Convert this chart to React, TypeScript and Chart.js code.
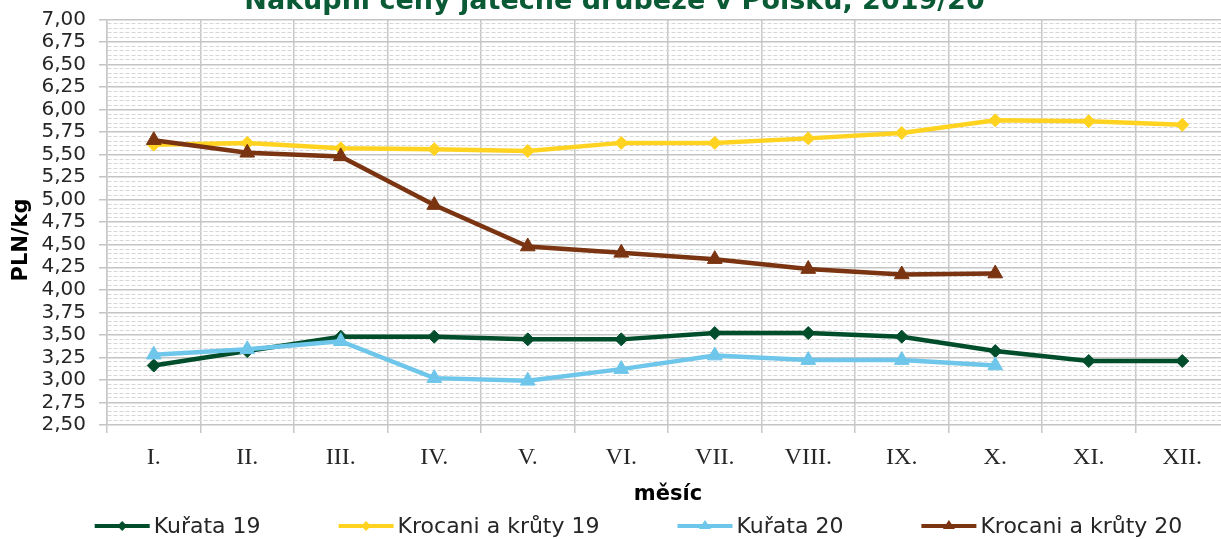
import React, { useEffect, useRef } from 'react';
import { Chart, registerables } from 'chart.js';

Chart.register(...registerables);

const titleText = 'Nákupní ceny jatečné drůbeže v Polsku, 2019/20';
const xTitle = 'měsíc';
const yTitle = 'PLN/kg';
const months = ['I.', 'II.', 'III.', 'IV.', 'V.', 'VI.', 'VII.', 'VIII.', 'IX.', 'X.', 'XI.', 'XII.'];
const seriesNames = ['Kuřata 19', 'Krocani a krůty 19', 'Kuřata 20', 'Krocani a krůty 20'];
const kurata19 = [3.16, 3.32, 3.48, 3.48, 3.45, 3.45, 3.52, 3.52, 3.48, 3.32, 3.21, 3.21];
const krocani19 = [5.61, 5.63, 5.57, 5.56, 5.54, 5.63, 5.63, 5.68, 5.74, 5.88, 5.87, 5.83];
const kurata20 = [3.28, 3.34, 3.43, 3.02, 2.99, 3.12, 3.27, 3.22, 3.22, 3.16, null, null];
const krocani20 = [5.66, 5.52, 5.48, 4.94, 4.48, 4.41, 4.34, 4.23, 4.17, 4.18, null, null];
const yMin = 2.5;
const yMax = 7.0;
const yMajorStep = 0.25;
const yMinorStep = 0.05;

const colors = ['#004d2b', '#ffd320', '#6ec6ea', '#7a3411'];
const pointStyles = ['rectRot', 'rectRot', 'triangle', 'triangle'];
const pointRadii = [6.5, 6.5, 8.5, 8.5];

const SANS = '"DejaVu Sans", Verdana, sans-serif';
const SERIF = '"Liberation Serif", "Times New Roman", serif';
const TEXT = '#262626';

const CANVAS_W = 1300;
const CANVAS_H = 559;
const SHIFT_Y = 20;
const LEGEND_CX = 638.5;
const LEGEND_CY = 526 + SHIFT_Y;
const YTITLE_X = 22;
const YTITLE_Y = 240 + SHIFT_Y;

const isMajor = (v: number | undefined) =>
  v !== undefined && Math.abs(v / yMajorStep - Math.round(v / yMajorStep)) < 1e-6;

function drawMarker(ctx: CanvasRenderingContext2D, style: string, x: number, y: number, r: number) {
  ctx.beginPath();
  if (style === 'rectRot') {
    ctx.moveTo(x, y - r);
    ctx.lineTo(x + r, y);
    ctx.lineTo(x, y + r);
    ctx.lineTo(x - r, y);
  } else {
    const h = r * 1.5;
    ctx.moveTo(x, y - h * 0.66);
    ctx.lineTo(x + r, y + h * 0.34);
    ctx.lineTo(x - r, y + h * 0.34);
  }
  ctx.closePath();
  ctx.fill();
}

const legendPlugin = {
  id: 'excelLegend',
  afterDraw(chart: any) {
    const ctx: CanvasRenderingContext2D = chart.ctx;
    ctx.save();
    // y-axis title
    ctx.translate(YTITLE_X, YTITLE_Y);
    ctx.rotate(-Math.PI / 2);
    ctx.font = `bold 21px ${SANS}`;
    ctx.fillStyle = '#000';
    ctx.textAlign = 'center';
    ctx.textBaseline = 'middle';
    ctx.fillText(yTitle, 0, 0);
    ctx.restore();

    ctx.save();
    ctx.font = `22px ${SANS}`;
    const lineLen = 55;
    const gapText = 4;
    const gapItem = 78;
    const items = chart.data.datasets.map((ds: any, i: number) => ({
      ds,
      i,
      w: lineLen + gapText + ctx.measureText(ds.label).width,
    }));
    const total = items.reduce((a: number, b: any) => a + b.w, 0) + gapItem * (items.length - 1);
    let x = LEGEND_CX - total / 2;
    const y = LEGEND_CY;
    items.forEach(({ ds, i, w }: any) => {
      ctx.strokeStyle = ds.borderColor;
      ctx.lineWidth = 4;
      ctx.beginPath();
      ctx.moveTo(x, y);
      ctx.lineTo(x + lineLen, y);
      ctx.stroke();
      ctx.fillStyle = ds.borderColor;
      drawMarker(ctx, pointStyles[i], x + lineLen / 2, y, i < 2 ? 5 : 6);
      ctx.fillStyle = TEXT;
      ctx.textBaseline = 'middle';
      ctx.textAlign = 'left';
      ctx.fillText(ds.label, x + lineLen + gapText, y + 1);
      x += w + gapItem;
    });
    ctx.restore();
  },
};

export default function App() {
  const ref = useRef<HTMLCanvasElement>(null);

  useEffect(() => {
    const seriesData = [kurata19, krocani19, kurata20, krocani20];
    const chart = new Chart(ref.current as HTMLCanvasElement, {
      type: 'line',
      data: {
        labels: months,
        datasets: seriesData.map((d, i) => ({
          label: seriesNames[i],
          data: d,
          borderColor: colors[i],
          backgroundColor: colors[i],
          pointBackgroundColor: colors[i],
          pointBorderColor: colors[i],
          pointStyle: pointStyles[i] as any,
          pointRadius: pointRadii[i],
          pointBorderWidth: 1,
          borderWidth: 4.5,
          tension: 0,
          spanGaps: false,
          order: 3 - i,
        })),
      },
      options: {
        responsive: false,
        animation: false,
        devicePixelRatio: 1,
        layout: { padding: { left: 0, right: 71, top: 0, bottom: 26 } },
        plugins: {
          legend: { display: false },
          tooltip: { enabled: false },
          title: {
            display: true,
            text: titleText,
            color: '#0a5a36',
            font: { family: SANS, size: 27, weight: 'bold' },
            padding: { top: 6, bottom: 1 },
          },
        },
        scales: {
          x: {
            offset: true,
            grid: { offset: true, color: '#c8c8c8', lineWidth: 1.5, tickLength: 8, drawTicks: true },
            border: { display: false },
            ticks: {
              font: { family: SERIF, size: 24 },
              color: TEXT,
              padding: 10,
              maxRotation: 0,
              autoSkip: false,
            },
            title: {
              display: true,
              text: xTitle,
              color: '#000',
              font: { family: SANS, size: 21, weight: 'bold' },
              padding: { top: 4, bottom: 6 },
            },
            afterFit: (s: any) => {
              s.height = 88;
            },
          },
          y: {
            min: yMin,
            max: yMax,
            ticks: {
              stepSize: yMinorStep,
              autoSkip: false,
              maxTicksLimit: 1000,
              padding: 13,
              color: TEXT,
              font: { family: SANS, size: 20 },
              callback: (v: any) => (isMajor(Number(v)) ? Number(v).toFixed(2).replace('.', ',') : ''),
            },
            grid: {
              color: (c: any) => (isMajor(c.tick?.value) ? '#c4c4c4' : '#d6d6d6'),
              lineWidth: (c: any) => (isMajor(c.tick?.value) ? 1.5 : 1),
              tickLength: 8,
              tickColor: (c: any) => (isMajor(c.tick?.value) ? '#c4c4c4' : 'rgba(0,0,0,0)'),
            },
            border: {
              display: true,
              color: '#c8c8c8',
              width: 1.5,
              dash: (c: any) => (c.tick && !isMajor(c.tick.value) ? [4, 2] : []),
            } as any,
            title: { display: false },
            afterFit: (s: any) => {
              s.width = 107;
            },
          },
        },
      },
      plugins: [legendPlugin],
    } as any);
    return () => chart.destroy();
  }, []);

  return (
    <div
      style={{
        position: 'fixed',
        left: 0,
        top: 0,
        width: 1221,
        height: 539,
        overflow: 'hidden',
        background: '#fff',
      }}
    >
      <canvas
        ref={ref}
        width={CANVAS_W}
        height={CANVAS_H}
        style={{ position: 'absolute', left: 0, top: -SHIFT_Y, width: CANVAS_W, height: CANVAS_H }}
      />
    </div>
  );
}
